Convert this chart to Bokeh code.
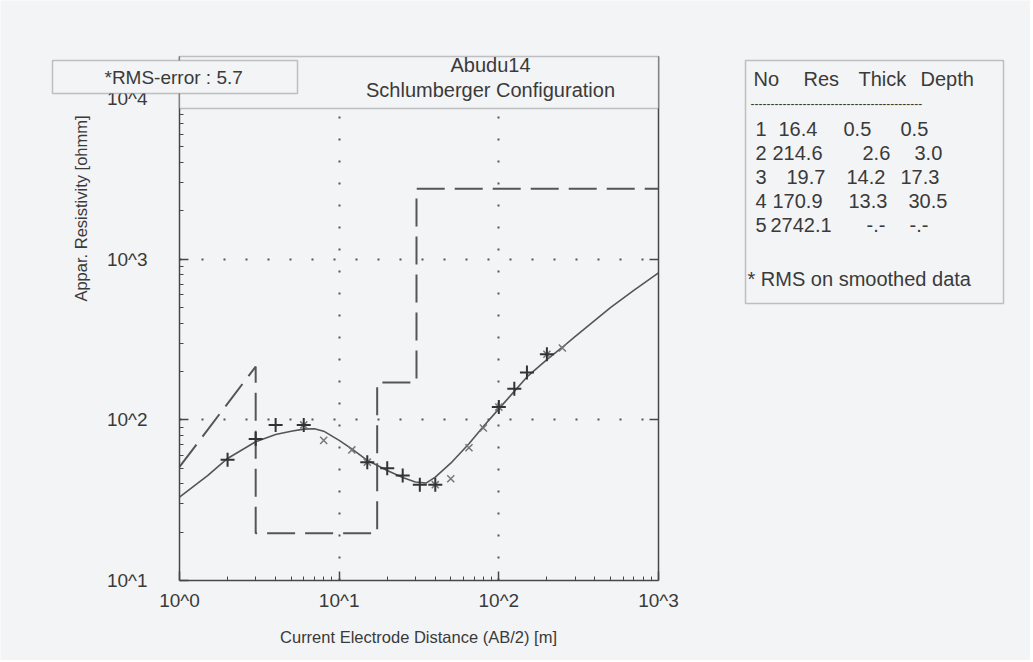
import math
from bokeh.plotting import figure
from bokeh.models import FixedTicker, LogAxis, Label, BoxAnnotation, Range1d
from bokeh.embed import file_html
from bokeh.resources import INLINE

# ---------------- data ----------------
# field data (+)
field_ab2 = [2, 3, 4, 6, 15, 20, 25, 32, 40, 100, 125, 150, 200]
field_rho = [56.5, 76, 93, 93, 54.5, 50, 45, 39.5, 39.5, 120, 156, 197, 256]
# smoothed data (x)
smooth_ab2 = [6, 8, 12, 15, 40, 50, 65, 80, 100, 200, 250]
smooth_rho = [93, 74.5, 65, 54.5, 39.5, 43, 67, 89, 120, 256, 280]
# calculated sounding curve (solid)
curve_ab2 = [1, 1.5, 2, 3, 4, 5, 6, 7, 8, 10, 12, 15, 20, 25, 30, 35, 40, 50,
             65, 80, 100, 150, 200, 250, 300, 500, 700, 1000]
curve_rho = [33, 45, 57.5, 73, 81, 85, 87.5, 88, 85, 74.5, 66, 56, 48.4, 43.7,
             41, 40.4, 44, 53.7, 71, 91, 117, 185, 237, 283, 330, 500, 640, 822]
# layered model (dashed)
model_ab2 = [1, 3.0, 3.0, 17.3, 17.3, 30.5, 30.5, 1000]
model_rho = [51, 214.6, 19.7, 19.7, 170.9, 170.9, 2742.1, 2742.1]

# table of layers
layer_no = ["1", "2", "3", "4", "5"]
layer_res = ["16.4", "214.6", "19.7", "170.9", "2742.1"]
layer_thick = ["0.5", "2.6", "14.2", "13.3", "-.-"]
layer_depth = ["0.5", "3.0", "17.3", "30.5", "-.-"]
table_header = ["No", "Res", "Thick", "Depth"]

x_ticks = [1, 10, 100, 1000]
x_tick_labels = ["10^0", "10^1", "10^2", "10^3"]
y_ticks = [10, 100, 1000, 10000]
y_tick_labels = ["10^1", "10^2", "10^3", "10^4"]
grid_x = [10, 100]
grid_y = [100, 1000]

title_lines = ["Abudu14", "Schlumberger Configuration"]
rms_text = "*RMS-error : 5.7"
rms_note = "* RMS on smoothed data"
x_title = "Current Electrode Distance (AB/2) [m]"
y_title = "Appar. Resistivity [ohmm]"

# ---------------- styling / geometry ----------------
BG = "#f3f4f6"
FRAME = "#474747"
TXT = "#3a3a3a"
FONT = "Liberation Sans"
FS = "19px"

W, H = 1030, 660
L, R, T, B = 179, 658, 56, 580   # plot box in page px
Y4 = 98                          # px of 10^4
PPD_X = (R - L) / 3.0
PPD_Y = (B - Y4) / 3.0


def dx(px):
    """page x (px) -> data x, used to place decorations"""
    return 10 ** ((px - L) / PPD_X)


def dy(py):
    """page y (px, from top) -> data y, used to place decorations"""
    return 10 ** (1 + (B - py) / PPD_Y)


p = figure(width=W, height=H, x_axis_type="log", y_axis_type="log",
           x_range=Range1d(dx(0), dx(W)), y_range=Range1d(dy(H), dy(0)),
           output_backend="svg", toolbar_location=None,
           min_border=0, min_border_left=0, min_border_right=0,
           min_border_top=0, min_border_bottom=0,
           background_fill_color=BG, border_fill_color=BG)
p.outline_line_color = None

minor_x = [m * 10 ** k for k in range(0, 3) for m in range(2, 10)]
minor_y = [m * 10 ** k for k in range(1, 4) for m in range(2, 10)]

xa = p.xaxis[0]
ya = p.yaxis[0]
xa.fixed_location = 10
xa.bounds = (1, 1000)
ya.fixed_location = 1
ya.bounds = (10, dy(T))
xa.ticker = FixedTicker(ticks=x_ticks, minor_ticks=minor_x)
ya.ticker = FixedTicker(ticks=y_ticks, minor_ticks=minor_y)
xa.major_label_overrides = {float(t): s for t, s in zip(x_ticks, x_tick_labels)}
ya.major_label_overrides = {float(t): s for t, s in zip(y_ticks, y_tick_labels)}
for ax in (xa, ya):
    ax.major_tick_in = 9
    ax.major_tick_out = 0
    ax.minor_tick_in = 4
    ax.minor_tick_out = 0
    ax.axis_line_color = FRAME
    ax.axis_line_width = 1.5
    ax.major_tick_line_color = FRAME
    ax.major_tick_line_width = 1.5
    ax.minor_tick_line_color = FRAME
    ax.major_label_text_font = FONT
    ax.major_label_text_font_size = FS
    ax.major_label_text_color = TXT
xa.major_label_standoff = 9
ya.major_label_standoff = 32

ra = LogAxis(ticker=FixedTicker(ticks=grid_y), major_label_text_alpha=0,
             fixed_location=1000, bounds=(10, dy(T)),
             major_tick_in=9, major_tick_out=0, minor_tick_line_color=None,
             axis_line_color=FRAME, axis_line_width=1.5,
             major_tick_line_color=FRAME, major_tick_line_width=1.5)
p.add_layout(ra, "right")

grid_ok = True
try:
    p.xgrid[0].cross_bounds = (10, 10000)
    p.ygrid[0].cross_bounds = (1, 1000)
except Exception:
    grid_ok = False

if grid_ok:
    p.xgrid.ticker = FixedTicker(ticks=grid_x)
    p.ygrid.ticker = FixedTicker(ticks=grid_y)
    for g in (p.xgrid, p.ygrid):
        g.grid_line_color = "#555555"
        g.grid_line_width = 2
        g.grid_line_dash = "2 20"
else:
    p.xgrid.visible = False
    p.ygrid.visible = False
    p.segment(x0=grid_x, y0=[10] * len(grid_x), x1=grid_x, y1=[10000] * len(grid_x),
              line_color="#555555", line_width=2, line_dash="2 20")
    p.segment(x0=[1] * len(grid_y), y0=grid_y, x1=[1000] * len(grid_y), y1=grid_y,
              line_color="#555555", line_width=2, line_dash="2 20")

# ---------------- glyphs ----------------
p.line(model_ab2, model_rho, line_color="#555555", line_width=2, line_dash="28 10")
p.line(curve_ab2, curve_rho, line_color="#555555", line_width=1.6)
p.scatter(smooth_ab2, smooth_rho, marker="x", size=10, line_color="#777777", line_width=1.5)
p.scatter(field_ab2, field_rho, marker="cross", size=14, line_color="#333333", line_width=2)


# ---------------- decorations ----------------
def box(l, r, t, b):
    p.add_layout(BoxAnnotation(left=dx(l), right=dx(r), top=dy(t), bottom=dy(b),
                               fill_color=BG, fill_alpha=1.0,
                               line_color=FRAME, line_width=1.5))


def text(x, y, s, align="left", size=FS, angle=0.0):
    p.add_layout(Label(x=dx(x), y=dy(y), text=s,
                       text_align=align, text_baseline="middle", angle=angle,
                       text_font=FONT, text_font_size=size, text_color=TXT))


# title box
box(L, R, T, 108)
text(490, 64.5, title_lines[0], "center", "20px")
text(490, 89, title_lines[1], "center", "20px")

# RMS box
box(52, 297, 60, 93)
text(104, 77, rms_text)

# axis titles
text(418, 636, x_title, "center", "16.5px")
text(80, 208, y_title, "center", "16.5px", math.pi / 2)

# layer table
TFS = "20px"
box(745, 1003, 60, 303)
for x, s in zip([753, 803, 858, 920], table_header):
    text(x, 78, s, "left", TFS)
text(750, 103, "-" * 43, "left", "12px")
row_y = [128 + 24 * i for i in range(len(layer_no))]
col_left = [
    [755] * 5,                    # No
    [778, 772, 786, 772, 770],    # Res
    [843, 862, 846, 848, 866],    # Thick
    [900, 914, 900, 908, 909],    # Depth
]
for xs, vals in zip(col_left, [layer_no, layer_res, layer_thick, layer_depth]):
    for x, y, s in zip(xs, row_y, vals):
        text(x, y, s, "left", TFS)
text(747, 278, rms_note, "left", TFS)

open("out.html", "w").write(file_html(p, INLINE))
